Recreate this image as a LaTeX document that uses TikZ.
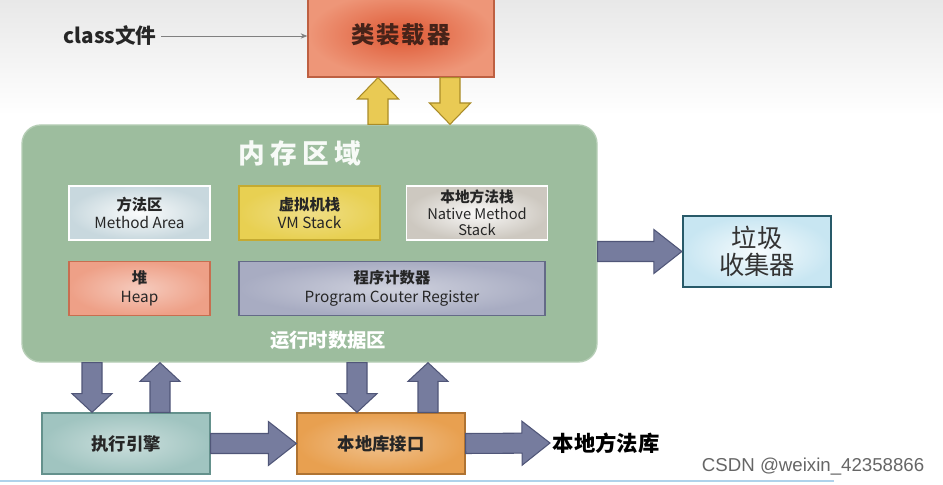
\documentclass[tikz,border=0pt]{standalone}
\usepackage{fontspec}
\setmainfont{Noto Sans CJK SC}
\newfontfamily\wmfont{Liberation Sans}
\usetikzlibrary{calc,arrows.meta}
\definecolor{memgreen}{RGB}{157,189,158}
\definecolor{memedge}{RGB}{182,206,182}
\definecolor{loaderred}{RGB}{222,88,52}
\definecolor{loaderlight}{RGB}{238,150,120}
\definecolor{loaderedge}{RGB}{190,96,66}
\definecolor{arrowyellow}{RGB}{233,202,84}
\definecolor{yellowedge}{RGB}{170,140,40}
\definecolor{arrowgray}{RGB}{118,124,158}
\definecolor{grayedge}{RGB}{80,86,120}
\definecolor{methodblue}{RGB}{200,216,222}
\definecolor{stackyellow}{RGB}{232,208,82}
\definecolor{stackedge}{RGB}{196,170,50}
\definecolor{nativegray}{RGB}{205,200,192}
\definecolor{heapred}{RGB}{238,160,135}
\definecolor{heapedge}{RGB}{200,110,80}
\definecolor{pcblue}{RGB}{168,172,194}
\definecolor{pcedge}{RGB}{100,106,135}
\definecolor{gcblue}{RGB}{200,230,242}
\definecolor{gcedge}{RGB}{40,90,105}
\definecolor{exegreen}{RGB}{160,196,192}
\definecolor{exeedge}{RGB}{100,145,140}
\definecolor{nliorange}{RGB}{232,160,80}
\definecolor{nliedge}{RGB}{175,115,50}
\definecolor{slideline}{RGB}{175,210,235}
\definecolor{loadertext}{RGB}{70,35,25}

\tikzset{
  % fat block arrow: shaft half width, head half width, head length
  bigarrow/.style n args={3}{to path={
      let \p1=(\tikztostart), \p2=(\tikztotarget),
          \n1={atan2(\y2-\y1,\x2-\x1)}, \n2={veclen(\x2-\x1,\y2-\y1)-#3} in
      ($(\p1)+(\n1+90:#1)$) -- ($(\p1)+(\n1:\n2*1pt)+(\n1+90:#1)$)
      -- ($(\p1)+(\n1:\n2*1pt)+(\n1+90:#2)$) -- (\p2)
      -- ($(\p1)+(\n1:\n2*1pt)+(\n1-90:#2)$) -- ($(\p1)+(\n1:\n2*1pt)+(\n1-90:#1)$)
      -- ($(\p1)+(\n1-90:#1)$) -- cycle}},
  yarrow/.style={bigarrow={7.5pt}{15.5pt}{16pt}, fill=arrowyellow, draw=yellowedge, line width=0.8pt},
  varrow/.style={bigarrow={7.5pt}{15pt}{14pt}, fill=arrowgray, draw=grayedge, line width=0.8pt},
  harrow/.style={bigarrow={7.5pt}{16.5pt}{21pt}, fill=arrowgray, draw=grayedge, line width=0.8pt},
  region/.style={draw=memedge, line width=1pt, fill=memgreen, rounded corners=14pt,
    minimum width=431.25pt, minimum height=177.75pt},
  cell/.style={draw, line width=1.3pt, minimum width=105.75pt, minimum height=40.5pt,
    align=center, inner sep=1pt, text=black!85, font=\fontsize{11.5}{14}\selectfont},
  unit/.style={draw, line width=1pt, minimum width=126pt, minimum height=45.75pt,
    text=black!85, font=\fontsize{13}{15}\selectfont\bfseries},
  loaderbox/.style={draw=loaderedge, line width=1pt, inner color=loaderred, outer color=loaderlight,
    minimum width=139.5pt, minimum height=63.75pt, text=loadertext,
    font=\fontsize{17.5}{20}\selectfont\bfseries},
  gcbox/.style={draw=gcedge, line width=1.7pt, inner color=white!85!gcblue, outer color=gcblue,
    minimum width=111pt, minimum height=53.25pt, align=center, text=black!80,
    font=\fontsize{19}{20.5}\selectfont},
}

\begin{document}
\begin{tikzpicture}[x=0.75pt,y=-0.75pt]
    \useasboundingbox (0,0) rectangle (943,485);
    % slide background
    \fill[top color=black!9, bottom color=white] (0,0) rectangle (943,115);
    \draw[line width=1.5pt, slideline] (0,481) -- (834,481);

    % class loader
    \node[loaderbox] (loader) at (401,34.5) {类\hspace{1.5pt}装\hspace{1.5pt}载\hspace{1.5pt}器};
    \node[font=\fontsize{15.5}{18}\selectfont\bfseries, text=black!85] (cls) at (110,36) {class文件};
    \draw[-{Stealth[length=5pt,width=4pt]}, black!50, line width=0.6pt] (cls.east) -- (cls.east -| loader.west);

    % memory area
    \node[region] (mem) at (309.5,243.5) {};
    \node[font=\fontsize{20}{24}\selectfont\bfseries, text=white!92!memgreen] (memtitle) at (300,153)
        {内\hspace{4pt}存\hspace{4pt}区\hspace{4pt}域};

    % runtime data cells
    \node[cell, draw=white, inner color=white!92!methodblue, outer color=methodblue] (ma) at (139.5,213) {\textbf{方法区}\\Method Area};
    \node[cell, draw=stackedge, inner color=stackyellow!70!white, outer color=stackyellow] (vms) at (309.5,213) {\textbf{虚拟机栈}\\VM Stack};
    \node[cell, draw=white, inner color=white!90!nativegray, outer color=nativegray,
        font=\fontsize{11}{12.5}\selectfont] (nms) at (477,213) {\textbf{本地方法栈}\\Native Method\\Stack};
    \node[cell, draw=heapedge, inner color=heapred!55!white, outer color=heapred] (heap) at (139.5,288.5) {\textbf{堆}\\Heap};
    \node[cell, draw=pcedge, inner color=pcblue!55!white, outer color=pcblue,
        minimum width=229.5pt] (pc) at (392,288.5) {\textbf{程序计数器}\\Program Couter Register};
    \node[font=\fontsize{14.5}{18}\selectfont\bfseries, text=white] (rtd) at (328,340) {运行时数据区};

    % garbage collector
    \node[gcbox] (gc) at (757,251.5) {垃圾\\收集器};

    % execution engine and native interface
    \node[unit, draw=exeedge, inner color=exegreen!55!white, outer color=exegreen] (exe) at (126,443.5) {执行引擎};
    \node[unit, draw=nliedge, inner color=nliorange!65!white, outer color=nliorange] (nli) at (381,443.5) {本地库接口};
    \node[font=\fontsize{16}{18}\selectfont\bfseries, anchor=west, inner sep=2pt] (nlib) at (550,443) {本地方法库};

    % watermark
    \node[font=\wmfont\fontsize{14}{16}\selectfont, text=black!60, anchor=east] (wm) at (929,467) {CSDN @weixin\_42358866};

    % arrow columns
    \coordinate (u1) at (378,0);
    \coordinate (u2) at (450,0);
    \coordinate (u3) at (92,0);
    \coordinate (u4) at (160,0);
    \coordinate (u5) at (357,0);
    \coordinate (u6) at (428,0);

    % loader <-> memory
    \draw[yarrow] (mem.north -| u1) to (loader.south -| u1);
    \draw[yarrow] (loader.south -| u2) to (mem.north -| u2);

    % memory <-> engine / interface
    \draw[varrow] (mem.south -| u3) to (exe.north -| u3);
    \draw[varrow] (exe.north -| u4) to (mem.south -| u4);
    \draw[varrow] (mem.south -| u5) to (nli.north -| u5);
    \draw[varrow] (nli.north -| u6) to (mem.south -| u6);

    % horizontal flow
    \draw[harrow] (mem.east |- gc.west) to (gc.west);
    \draw[harrow] (exe.east) to (nli.west);
    \draw[harrow] (nli.east) to (nlib.west);
\end{tikzpicture}
\end{document}
